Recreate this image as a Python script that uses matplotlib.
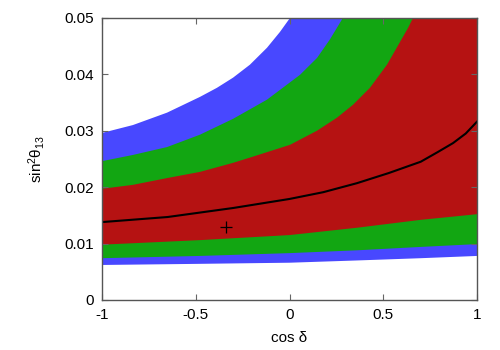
import matplotlib
matplotlib.use("Agg")
import matplotlib.pyplot as plt
import numpy as np

plt.rcParams["font.family"] = ["Liberation Sans", "DejaVu Sans"]
plt.rcParams["mathtext.fontset"] = "custom"
plt.rcParams["mathtext.rm"] = "Liberation Sans"
plt.rcParams["mathtext.it"] = "Liberation Sans:italic"

# upper edges of the bands (0.05 = top of plot)
blue_top_x = [-1.0, -0.835, -0.653, -0.477, -0.387, -0.301, -0.211, -0.120, -0.051, 0.003, 1.0]
blue_top_y = [0.0296, 0.0310, 0.0332, 0.0360, 0.0376, 0.0394, 0.0417, 0.0447, 0.0475, 0.050, 0.050]

green_top_x = [-1.0, -0.835, -0.653, -0.477, -0.301, -0.120, 0.056, 0.147, 0.216, 0.285, 1.0]
green_top_y = [0.0246, 0.0257, 0.0271, 0.0293, 0.0321, 0.0355, 0.0399, 0.0429, 0.0462, 0.050, 0.050]

red_top_x = [-1.0, -0.835, -0.653, -0.477, -0.301, -0.195, 0.003, 0.147, 0.253, 0.339, 0.429,
             0.520, 0.589, 0.632, 0.659, 1.0]
red_top_y = [0.0197, 0.0204, 0.0216, 0.0227, 0.0243, 0.0254, 0.0275, 0.0300, 0.0323, 0.0346, 0.0376,
             0.0417, 0.0457, 0.0482, 0.050, 0.050]

# lower edges
low_x = [-1.0, -0.48, 0.0, 0.36, 0.70, 1.0]
red_low_y = [0.0098, 0.0106, 0.0115, 0.0128, 0.0142, 0.0152]
green_low_y = [0.0074, 0.0078, 0.0083, 0.0088, 0.0094, 0.0099]
blue_low_y = [0.0062, 0.0064, 0.0066, 0.0070, 0.0074, 0.0078]

# central curve
line_x = [-1.0, -0.65, -0.30, 0.0, 0.18, 0.36, 0.53, 0.70, 0.79, 0.872, 0.94, 1.0]
line_y = [0.0138, 0.0147, 0.0163, 0.0179, 0.0191, 0.0207, 0.0225, 0.0245, 0.0262, 0.0278, 0.0295, 0.0316]

best_x = [-0.339]
best_y = [0.0129]

fig = plt.figure(figsize=(5, 3.5), dpi=100)
ax = fig.add_axes([0.204, 0.143, 0.75, 0.806])

def band(top_x, top_y, low_y, color):
    xs = np.concatenate([top_x, low_x[::-1]])
    ys = np.concatenate([top_y, low_y[::-1]])
    ax.fill(xs, ys, color=color, lw=0)

band(blue_top_x, blue_top_y, blue_low_y, "#4848ff")
band(green_top_x, green_top_y, green_low_y, "#12a612")
band(red_top_x, red_top_y, red_low_y, "#b51212")

ax.plot(line_x, line_y, color="black", lw=1.5)
ax.plot(best_x, best_y, marker="+", color="black", ms=8, mew=0.9, ls="none")

ax.set_xlim(-1, 1)
ax.set_ylim(0, 0.05)
ax.set_xticks([-1, -0.5, 0, 0.5, 1])
ax.set_xticklabels(["-1", "-0.5", "0", "0.5", "1"])
ax.set_yticks([0, 0.01, 0.02, 0.03, 0.04, 0.05])
ax.set_yticklabels(["0", "0.01", "0.02", "0.03", "0.04", "0.05"])
ax.tick_params(direction="in", top=True, right=True, length=4, labelsize=11,
               color="#666666", pad=6)
for s in ax.spines.values():
    s.set_color("#555555")
    s.set_linewidth(1.0)

ax.set_xlabel("cos δ", fontsize=11, labelpad=6)
ax.set_ylabel(r"$\mathrm{sin}^2\mathrm{\theta}_{13}$", fontsize=11, labelpad=12)

plt.savefig("out.png", dpi=100)
plt.close()
